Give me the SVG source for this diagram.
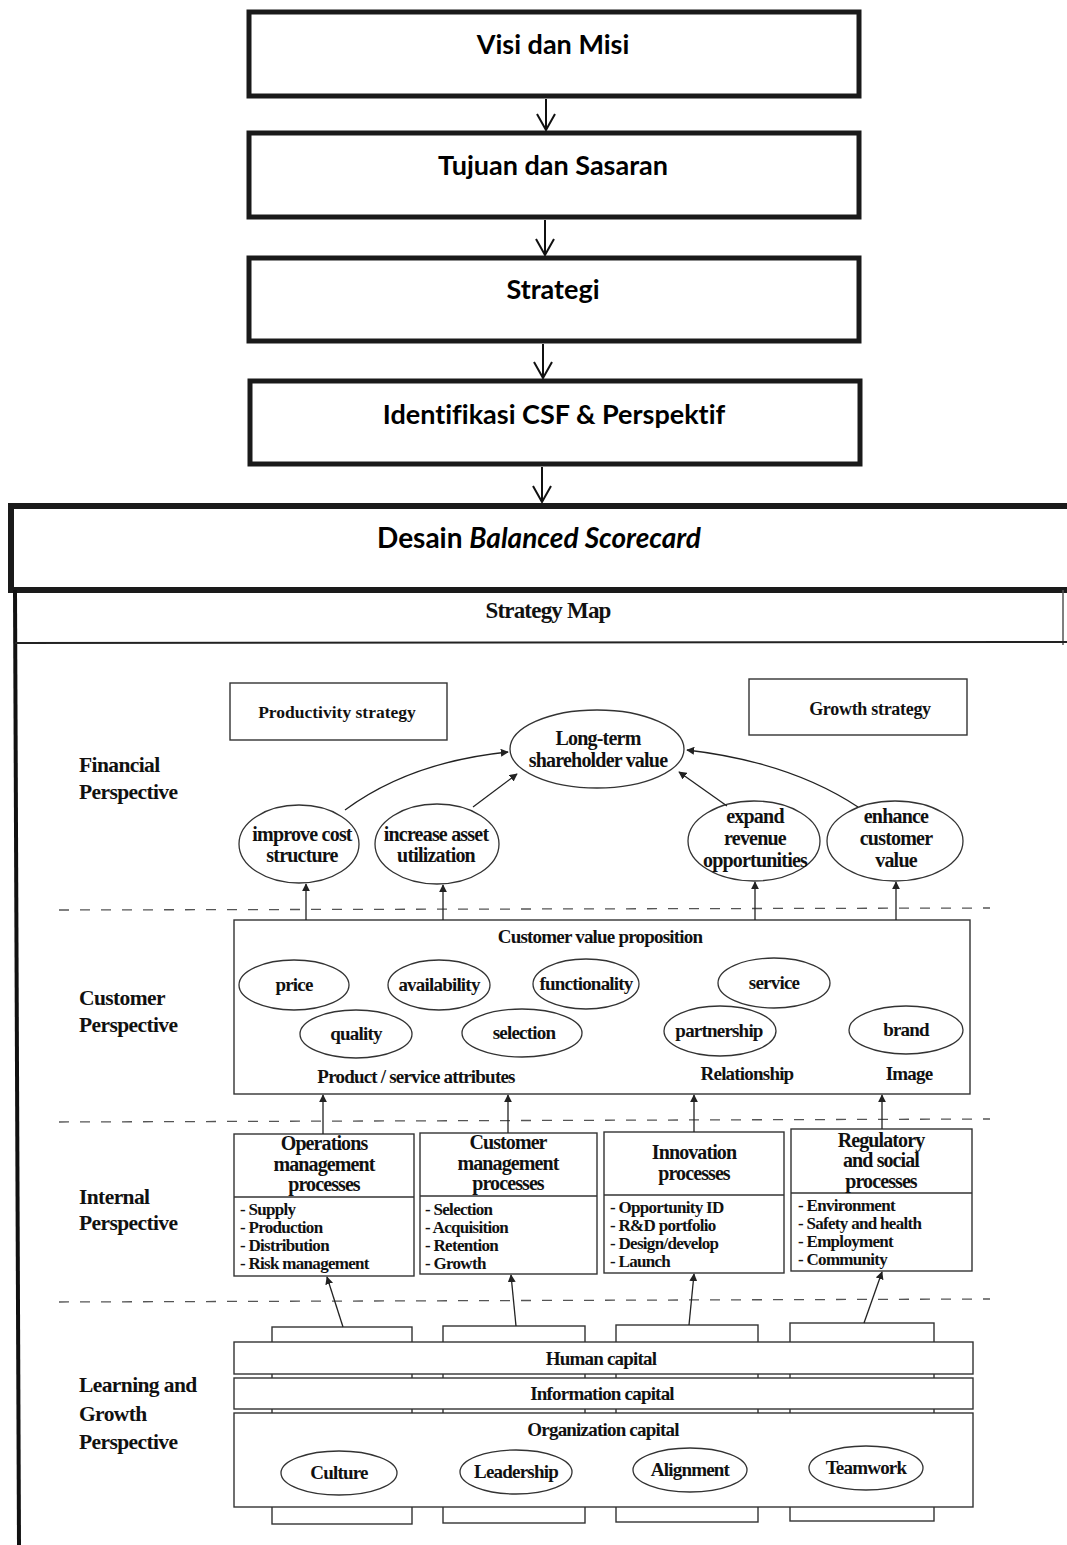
<svg xmlns="http://www.w3.org/2000/svg" width="1067" height="1545" viewBox="0 0 1067 1545">
<defs>
<style>
.flow{fill:#fff;stroke:#1a1a1a;stroke-width:5}
.ft{font-family:Lato,"Open Sans","Liberation Sans",sans-serif;font-weight:700;font-size:27px;fill:#000;text-anchor:middle;font-variant-ligatures:none}
.varr{stroke:#111;stroke-width:2;fill:none}
.t{font-family:"Liberation Serif","Times New Roman",serif;font-weight:700;fill:#111;letter-spacing:-0.8px;font-size:19px}
.c{text-anchor:middle}
.e{font-size:20px}
.ce{font-size:19px}
.ttl{font-size:20px;letter-spacing:-0.9px}
.lab{font-size:21.5px;letter-spacing:-0.6px}
.lst{font-size:17px;letter-spacing:-0.7px}
.hd{font-size:23px}
.box{fill:#fff;stroke:#333;stroke-width:1.4}
.ell{fill:#fff;stroke:#333;stroke-width:1.3}
.dash{stroke:#555;stroke-width:1.3;stroke-dasharray:10 11;fill:none}
.con{stroke:#222;stroke-width:1.3;fill:none;marker-end:url(#ah)}
</style>
<marker id="ah" viewBox="0 0 10 10" refX="9" refY="5" markerWidth="8" markerHeight="8" markerUnits="userSpaceOnUse" orient="auto"><path d="M0,0 L10,5 L0,10 z" fill="#222"/></marker>
<marker id="vh" viewBox="-18 -11 20 22" refX="0" refY="0" markerWidth="20" markerHeight="22" markerUnits="userSpaceOnUse" orient="auto"><path d="M-16,-9 L0,0 L-16,9" fill="none" stroke="#111" stroke-width="2"/></marker>
</defs>

<g id="flow-visi"><rect class="flow" x="249" y="12" width="610" height="84"/><text class="ft" x="553" y="54">Visi dan Misi</text></g>
<g id="flow-tujuan"><rect class="flow" x="249" y="133" width="610" height="84"/><text class="ft" x="553" y="175">Tujuan dan Sasaran</text></g>
<g id="flow-strategi"><rect class="flow" x="249" y="258" width="610" height="83"/><text class="ft" x="553" y="299">Strategi</text></g>
<g id="flow-csf"><rect class="flow" x="250" y="381" width="610" height="83"/><text class="ft" x="554" y="424">Identifikasi CSF &amp; Perspektif</text></g>
<g id="flow-desain"><rect x="11" y="506" width="1062" height="84" fill="#fff" stroke="#1a1a1a" stroke-width="6"/><text class="ft" x="539" y="548" style="font-size:28px">Desain <tspan font-style="italic">Balanced Scorecard</tspan></text></g>

<g id="flow-connectors">
<line class="varr" x1="546" y1="99" x2="546" y2="130" marker-end="url(#vh)"/>
<line class="varr" x1="545" y1="220" x2="545" y2="255" marker-end="url(#vh)"/>
<line class="varr" x1="543" y1="344" x2="543" y2="378" marker-end="url(#vh)"/>
<line class="varr" x1="542" y1="467" x2="542" y2="502" marker-end="url(#vh)"/>
</g>

<g id="map-frame">
<line x1="15" y1="590" x2="19" y2="1545" stroke="#111" stroke-width="4"/>
<line x1="1063" y1="590" x2="1063" y2="645" stroke="#555" stroke-width="1.5"/>
<line x1="15" y1="643" x2="1067" y2="642" stroke="#222" stroke-width="2"/>
<text class="t c hd" x="548" y="618">Strategy Map</text>
</g>

<g id="perspective-labels">
<text class="t lab" x="79" y="772">Financial</text>
<text class="t lab" x="79" y="799">Perspective</text>
<text class="t lab" x="79" y="1005">Customer</text>
<text class="t lab" x="79" y="1032">Perspective</text>
<text class="t lab" x="79" y="1204">Internal</text>
<text class="t lab" x="79" y="1230">Perspective</text>
<text class="t lab" x="79" y="1392">Learning and</text>
<text class="t lab" x="79" y="1421">Growth</text>
<text class="t lab" x="79" y="1449">Perspective</text>
</g>

<g id="dividers">
<line class="dash" x1="59" y1="910" x2="990" y2="908"/>
<line class="dash" x1="59" y1="1122" x2="990" y2="1119"/>
<line class="dash" x1="59" y1="1302" x2="990" y2="1299"/>
</g>

<g id="productivity-strategy"><rect class="box" x="230" y="683" width="217" height="57"/><text class="t c" x="337" y="718" style="letter-spacing:0;font-size:17.5px">Productivity strategy</text></g>
<g id="growth-strategy"><rect class="box" x="749" y="679" width="218" height="56"/><text class="t c" x="870" y="715" style="letter-spacing:-0.3px;font-size:18px">Growth strategy</text></g>

<g id="long-term"><ellipse class="ell" cx="597" cy="749" rx="87" ry="39"/><text class="t c e" x="598" y="745">Long-term</text><text class="t c e" x="598" y="767">shareholder value</text></g>
<g id="improve-cost"><ellipse class="ell" cx="299" cy="844" rx="60" ry="39"/><text class="t c e" x="302" y="841">improve cost</text><text class="t c e" x="302" y="862">structure</text></g>
<g id="increase-asset"><ellipse class="ell" cx="437" cy="844" rx="62" ry="40"/><text class="t c e" x="436" y="841">increase asset</text><text class="t c e" x="436" y="862">utilization</text></g>
<g id="expand-revenue"><ellipse class="ell" cx="754" cy="841" rx="66" ry="40"/><text class="t c e" x="755" y="823">expand</text><text class="t c e" x="755" y="845">revenue</text><text class="t c e" x="755" y="867">opportunities</text></g>
<g id="enhance-customer"><ellipse class="ell" cx="895" cy="841" rx="68" ry="40"/><text class="t c e" x="896" y="823">enhance</text><text class="t c e" x="896" y="845">customer</text><text class="t c e" x="896" y="867">value</text></g>

<g id="customer-value-proposition">
<rect class="box" x="234" y="920" width="736" height="174"/>
<text class="t c" x="600" y="943">Customer value proposition</text>
<ellipse class="ell" cx="294" cy="985" rx="55" ry="25"/><text class="t c ce" x="294" y="991">price</text>
<ellipse class="ell" cx="439" cy="985" rx="51" ry="25"/><text class="t c ce" x="439" y="991">availability</text>
<ellipse class="ell" cx="586" cy="984" rx="53" ry="25"/><text class="t c ce" x="586" y="990">functionality</text>
<ellipse class="ell" cx="774" cy="983" rx="56" ry="25"/><text class="t c ce" x="774" y="989">service</text>
<ellipse class="ell" cx="356" cy="1034" rx="56" ry="24"/><text class="t c ce" x="356" y="1040">quality</text>
<ellipse class="ell" cx="522" cy="1033" rx="60" ry="24"/><text class="t c ce" x="524" y="1039">selection</text>
<ellipse class="ell" cx="720" cy="1031" rx="56" ry="25"/><text class="t c ce" x="719" y="1037">partnership</text>
<ellipse class="ell" cx="906" cy="1030" rx="57" ry="24"/><text class="t c ce" x="906" y="1036">brand</text>
<text class="t c" x="416" y="1083">Product / service attributes</text>
<text class="t c" x="747" y="1080">Relationship</text>
<text class="t c" x="909" y="1080">Image</text>
</g>

<g id="operations-management">
<rect class="box" x="234" y="1134" width="180" height="142"/><line class="box" x1="234" y1="1197" x2="414" y2="1197"/>
<text class="t c ttl" x="324" y="1150">Operations</text><text class="t c ttl" x="324" y="1171">management</text><text class="t c ttl" x="324" y="1191">processes</text>
<text class="t lst" x="240" y="1215">- Supply</text><text class="t lst" x="240" y="1233">- Production</text><text class="t lst" x="240" y="1251">- Distribution</text><text class="t lst" x="240" y="1269">- Risk management</text>
</g>
<g id="customer-management">
<rect class="box" x="420" y="1133" width="177" height="141"/><line class="box" x1="420" y1="1196" x2="597" y2="1196"/>
<text class="t c ttl" x="508" y="1149">Customer</text><text class="t c ttl" x="508" y="1170">management</text><text class="t c ttl" x="508" y="1190">processes</text>
<text class="t lst" x="425" y="1215">- Selection</text><text class="t lst" x="425" y="1233">- Acquisition</text><text class="t lst" x="425" y="1251">- Retention</text><text class="t lst" x="425" y="1269">- Growth</text>
</g>
<g id="innovation">
<rect class="box" x="604" y="1132" width="180" height="141"/><line class="box" x1="604" y1="1195" x2="784" y2="1195"/>
<text class="t c ttl" x="694" y="1159">Innovation</text><text class="t c ttl" x="694" y="1180">processes</text>
<text class="t lst" x="610" y="1213">- Opportunity ID</text><text class="t lst" x="610" y="1231">- R&amp;D portfolio</text><text class="t lst" x="610" y="1249">- Design/develop</text><text class="t lst" x="610" y="1267">- Launch</text>
</g>
<g id="regulatory-social">
<rect class="box" x="791" y="1129" width="181" height="142"/><line class="box" x1="791" y1="1193" x2="972" y2="1193"/>
<text class="t c ttl" x="881" y="1147">Regulatory</text><text class="t c ttl" x="881" y="1167">and social</text><text class="t c ttl" x="881" y="1188">processes</text>
<text class="t lst" x="798" y="1211">- Environment</text><text class="t lst" x="798" y="1229">- Safety and health</text><text class="t lst" x="798" y="1247">- Employment</text><text class="t lst" x="798" y="1265">- Community</text>
</g>

<g id="learning-growth">
<rect class="box" x="272" y="1327" width="140" height="197"/>
<rect class="box" x="443" y="1326" width="142" height="197"/>
<rect class="box" x="616" y="1325" width="142" height="197"/>
<rect class="box" x="790" y="1323" width="144" height="198"/>
<rect class="box" x="234" y="1342" width="739" height="32"/>
<text class="t c" x="601" y="1365">Human capital</text>
<rect class="box" x="234" y="1378" width="739" height="31"/>
<text class="t c" x="602" y="1400">Information capital</text>
<rect class="box" x="234" y="1413" width="739" height="94"/>
<text class="t c" x="603" y="1436">Organization capital</text>
<ellipse class="ell" cx="339" cy="1473" rx="58" ry="22"/><text class="t c ce" x="339" y="1479">Culture</text>
<ellipse class="ell" cx="516" cy="1472" rx="56" ry="22"/><text class="t c ce" x="516" y="1478">Leadership</text>
<ellipse class="ell" cx="690" cy="1470" rx="57" ry="22"/><text class="t c ce" x="690" y="1476">Alignment</text>
<ellipse class="ell" cx="866" cy="1468" rx="57" ry="22"/><text class="t c ce" x="866" y="1474">Teamwork</text>
</g>

<g id="connectors">
<path class="con" d="M345,810 Q410,762 508,752"/>
<path class="con" d="M473,807 L517,774"/>
<path class="con" d="M727,806 L679,772"/>
<path class="con" d="M858,807 Q790,762 687,750"/>
<line class="con" x1="306" y1="920" x2="306" y2="884"/>
<line class="con" x1="443" y1="920" x2="443" y2="885"/>
<line class="con" x1="755" y1="920" x2="755" y2="882"/>
<line class="con" x1="896" y1="920" x2="896" y2="882"/>
<line class="con" x1="323" y1="1134" x2="323" y2="1095"/>
<line class="con" x1="508" y1="1133" x2="508" y2="1095"/>
<line class="con" x1="694" y1="1132" x2="694" y2="1095"/>
<line class="con" x1="882" y1="1129" x2="882" y2="1095"/>
<line class="con" x1="343" y1="1327" x2="327" y2="1277"/>
<line class="con" x1="516" y1="1326" x2="511" y2="1275"/>
<line class="con" x1="689" y1="1325" x2="694" y2="1274"/>
<line class="con" x1="864" y1="1323" x2="882" y2="1272"/>
</g>
</svg>
